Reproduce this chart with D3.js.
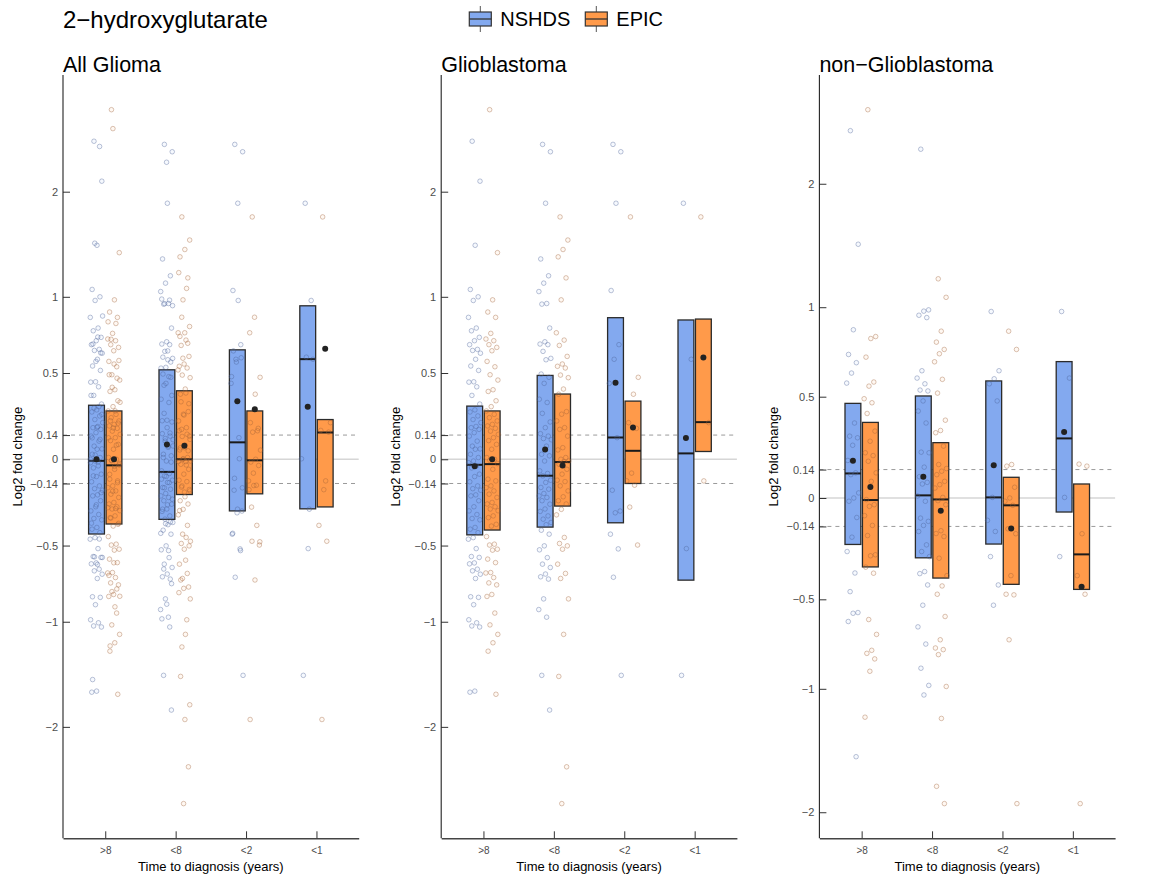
<!DOCTYPE html>
<html>
<head>
<meta charset="utf-8">
<script src="https://d3js.org/d3.v7.min.js"></script>
<style>
  body { margin: 0; background: #fff; }
  svg { font-family: "Liberation Sans", Arial, Helvetica, sans-serif; }
  .tick text { fill: #4d4d4d; }
  .tick line { stroke: #333; }
</style>
</head>
<body>
<svg id="chart" width="1151" height="876"></svg>
<script>
// ---- data ----
const groups = [">8", "<8", "<2", "<1"];
const cohorts = ["NSHDS", "EPIC"];
const panelTitles = ["All Glioma", "Glioblastoma", "non\u2212Glioblastoma"];
const yTicks = [-2, -1, -0.5, -0.14, 0, 0.14, 0.5, 1, 2];
// the y axis is squeezed away from zero; relative spacing of the ticks
const yTickWarp = [-1.647, -1, -0.531, -0.149, 0, 0.149, 0.531, 1, 1.647];

// log2 fold change per subject, glioblastoma cases, one list per time group
const gbmNSHDS = [
  [2.48, 2.10, 1.49, 1.07, 1.0, 0.976, 0.865, 0.795, 0.777, 0.734, 0.712, 0.686, 0.655, 0.648, 0.63, 0.59, 0.546, 0.517, 0.449, 0.447, 0.42, 0.37, 0.32, 0.286, 0.274, 0.251, 0.23, 0.212, 0.19, 0.183, 0.173, 0.154, 0.134, 0.105, 0.076, 0.06, 0.058, 0.029, 0.01, -0.01, -0.02, -0.038, -0.05, -0.086, -0.1, -0.13, -0.154, -0.17, -0.179, -0.206, -0.212, -0.24, -0.275, -0.299, -0.32, -0.343, -0.351, -0.395, -0.405, -0.425, -0.454, -0.463, -0.52, -0.572, -0.578, -0.614, -0.62, -0.655, -0.666, -0.688, -0.716, -0.836, -0.84, -0.888, -0.987, -1.01, -1.04, -1.05, -1.66, -1.67],
  [2.45, 2.38, 1.89, 1.36, 1.2, 1.13, 1.05, 0.956, 0.952, 0.795, 0.705, 0.69, 0.686, 0.642, 0.596, 0.587, 0.494, 0.475, 0.44, 0.348, 0.329, 0.266, 0.216, 0.183, 0.148, 0.134, 0.12, 0.113, 0.076, 0.029, 0.02, -0.01, -0.067, -0.082, -0.096, -0.121, -0.134, -0.163, -0.173, -0.198, -0.212, -0.221, -0.24, -0.26, -0.288, -0.302, -0.328, -0.347, -0.366, -0.379, -0.411, -0.434, -0.502, -0.528, -0.579, -0.622, -0.644, -0.687, -0.705, -0.72, -0.85, -0.92, -0.97, -1.51, -1.84],
  [2.45, 2.38, 1.89, 1.06, 0.686, 0.59, 0.44, 0.125, -0.179, -0.3, -0.31, -0.434, -0.522, -0.708, -1.51],
  [1.89, 0.59, -0.52, -1.51]
];
const gbmEPIC = [
  [2.78, 1.42, 0.98, 0.9, 0.865, 0.76, 0.723, 0.712, 0.686, 0.668, 0.646, 0.576, 0.541, 0.49, 0.459, 0.403, 0.393, 0.339, 0.305, 0.28, 0.26, 0.241, 0.222, 0.202, 0.193, 0.179, 0.163, 0.144, 0.125, 0.108, 0.086, 0.058, 0.01, 0.0, -0.006, -0.025, -0.058, -0.115, -0.125, -0.154, -0.164, -0.183, -0.202, -0.221, -0.25, -0.259, -0.275, -0.288, -0.298, -0.328, -0.338, -0.377, -0.387, -0.448, -0.492, -0.497, -0.524, -0.53, -0.589, -0.612, -0.677, -0.68, -0.71, -0.745, -0.758, -0.821, -0.834, -0.943, -1.03, -1.12, -1.2, -1.28, -1.69],
  [1.76, 1.54, 1.45, 1.38, 1.18, 0.98, 0.764, 0.716, 0.681, 0.609, 0.559, 0.544, 0.533, 0.488, 0.473, 0.407, 0.377, 0.276, 0.261, 0.222, 0.183, 0.173, 0.134, 0.067, 0.054, 0.01, 0.0, -0.01, -0.013, -0.029, -0.058, -0.086, -0.121, -0.129, -0.154, -0.183, -0.217, -0.24, -0.259, -0.29, -0.322, -0.453, -0.488, -0.502, -0.524, -0.622, -0.683, -0.716, -0.85, -1.12, -1.52, -2.38, -2.73],
  [1.76, 0.475, 0.377, 0.212, 0.179, -0.08, -0.125, -0.15, -0.277, -0.497],
  [1.76, 0.212, -0.125]
];
// non-glioblastoma cases
const nonNSHDS = [
  [2.43, 1.51, 0.874, 0.736, 0.69, 0.632, 0.576, 0.37, 0.305, 0.297, 0.26, 0.185, 0.124, 0.115, 0.025, 0.0, -0.016, -0.096, -0.193, -0.264, -0.37, -0.462, -0.574, -0.578, -0.624, -1.55],
  [2.28, 0.985, 0.978, 0.955, 0.942, 0.645, 0.604, 0.572, 0.537, 0.532, 0.479, 0.429, 0.37, 0.226, 0.223, 0.152, 0.105, 0.077, 0.069, 0.01, -0.016, -0.099, -0.115, -0.135, -0.165, -0.231, -0.264, -0.289, -0.363, -0.373, -0.429, -0.533, -0.654, -0.75, -0.885, -0.981, -1.05],
  [0.976, 0.645, 0.6, 0.572, 0.479, 0.003, -0.11, -0.165, -0.289, -0.429, -0.533],
  [0.976, 0.604, 0.003, -0.289]
];
const nonEPIC = [
  [2.6, 0.836, 0.825, 0.721, 0.582, 0.559, 0.49, 0.47, 0.417, 0.33, 0.28, 0.223, 0.209, 0.181, 0.124, 0.082, -0.008, -0.033, -0.041, -0.087, -0.135, -0.185, -0.28, -0.285, -0.341, -0.371, -0.613, -0.696, -0.785, -0.802, -0.833, -0.902, -1.23],
  [1.23, 1.08, 0.866, 0.805, 0.764, 0.74, 0.695, 0.597, 0.52, 0.384, 0.333, 0.322, 0.256, 0.165, 0.145, 0.132, 0.115, 0.082, 0.066, 0.049, 0.003, -0.013, -0.033, -0.161, -0.175, -0.19, -0.297, -0.383, -0.434, -0.475, -0.596, -0.726, -0.772, -0.781, -0.809, -0.987, -1.24, -1.79, -1.93],
  [0.866, 0.764, 0.165, 0.157, 0.053, 0.0, -0.016, -0.036, -0.152, -0.176, -0.383, -0.475, -0.478, -0.726, -1.93],
  [0.167, 0.157, -0.176, -0.383, -0.475, -1.93]
];

// box summaries per time group: [lower, median, upper, mean]
const allBoxNSHDS = [[-0.433, -0.009, 0.313, 0.0], [-0.348, -0.073, 0.521, 0.085], [-0.299, 0.098, 0.652, 0.336], [-0.287, 0.591, 0.941, 0.304]];
const allBoxEPIC  = [[-0.375, -0.035, 0.28, 0.0], [-0.204, 0.0, 0.397, 0.078], [-0.2, -0.006, 0.28, 0.29], [-0.276, 0.155, 0.23, 0.659]];
const gbmBoxNSHDS = [[-0.438, -0.032, 0.308, -0.04], [-0.393, -0.095, 0.486, 0.057], [-0.368, 0.126, 0.863, 0.444], [-0.727, 0.034, 0.848, 0.123]];
const gbmBoxEPIC  = [[-0.41, -0.028, 0.28, 0.0], [-0.271, -0.016, 0.378, -0.036], [-0.14, 0.049, 0.337, 0.184], [0.045, 0.215, 0.854, 0.602]];
const nonBoxNSHDS = [[-0.229, 0.121, 0.467, 0.184], [-0.295, 0.013, 0.504, 0.105], [-0.227, 0.003, 0.588, 0.161], [-0.069, 0.294, 0.696, 0.326]];
const nonBoxEPIC  = [[-0.34, -0.01, 0.373, 0.054], [-0.395, -0.007, 0.273, -0.063], [-0.426, -0.036, 0.102, -0.15], [-0.451, -0.278, 0.069, -0.438]];

// all glioma = both subtypes together
const allNSHDS = gbmNSHDS.map((d, i) => d.concat(nonNSHDS[i]));
const allEPIC = gbmEPIC.map((d, i) => d.concat(nonEPIC[i]));

const panels = [
  { title: panelTitles[0], pts: [allNSHDS, allEPIC], box: [allBoxNSHDS, allBoxEPIC] },
  { title: panelTitles[1], pts: [gbmNSHDS, gbmEPIC], box: [gbmBoxNSHDS, gbmBoxEPIC] },
  { title: panelTitles[2], pts: [nonNSHDS, nonEPIC], box: [nonBoxNSHDS, nonBoxEPIC] }
];

// ---- drawing ----
const fill = ["#83a9ef", "#ff9a4a"];
const ptStroke = ["#4a5f96", "#9c5f38"];
const plotTop = 75, plotBottom = 838.3, panelW = 295.7;

const svg = d3.select("#chart");
svg.append("rect").attr("width", 1151).attr("height", 876).attr("fill", "#fff");

const warp = d3.scaleLinear().domain(yTicks).range(yTickWarp);
const fmt = d => d < 0 ? "\u2212" + Math.abs(d) : String(d);

panels.forEach((p, pi) => {
  const left = 63 + pi * 378.2, right = left + panelW;
  const g = svg.append("g");

  // y limits from everything drawn, 5% padding in axis space
  const vals = p.pts.flat(2).concat(p.box.flat(2));
  const ext = d3.extent(vals, v => warp(v));
  const pad = (ext[1] - ext[0]) * 0.05;
  const yLin = d3.scaleLinear().domain([ext[0] - pad, ext[1] + pad]).range([plotBottom, plotTop]);
  const y = d3.scaleLinear().domain(yTicks).range(yTicks.map(t => yLin(warp(t))));

  const x = d3.scalePoint().domain(groups).range([left, right]).padding(0.6);
  const step = x.step();
  const xc = (gi, ci) => x(groups[gi]) + (ci === 0 ? -1 : 1) * 0.124 * step;
  const bw = 0.225 * step;

  // reference lines
  g.append("line").attr("x1", left).attr("x2", right)
    .attr("y1", y(0)).attr("y2", y(0))
    .attr("stroke", "#d6d6d6").attr("stroke-width", 1.5);
  g.selectAll(".thr").data([-0.14, 0.14]).join("line")
    .attr("x1", left).attr("x2", right)
    .attr("y1", d => y(d)).attr("y2", d => y(d))
    .attr("stroke", "#9a9a9a").attr("stroke-width", 1).attr("stroke-dasharray", "4,4");

  // boxes
  cohorts.forEach((c, ci) => {
    p.box[ci].forEach((b, gi) => {
      const cx = xc(gi, ci);
      g.append("rect")
        .attr("x", cx - bw / 2).attr("width", bw)
        .attr("y", y(b[2])).attr("height", y(b[0]) - y(b[2]))
        .attr("fill", fill[ci]).attr("stroke", "#2b2b2b").attr("stroke-width", 1.3);
      g.append("line")
        .attr("x1", cx - bw / 2).attr("x2", cx + bw / 2)
        .attr("y1", y(b[1])).attr("y2", y(b[1]))
        .attr("stroke", "#1a1a1a").attr("stroke-width", 2);
    });
  });

  // jittered subjects
  cohorts.forEach((c, ci) => {
    p.pts[ci].forEach((vs, gi) => {
      const cx = xc(gi, ci);
      g.append("g").selectAll("circle").data(vs).join("circle")
        .attr("cx", (v, i) => cx + (((i * 0.618034 + 0.3) % 1) * 2 - 1) * 0.09 * step)
        .attr("cy", v => y(v))
        .attr("r", 2.3)
        .attr("fill", fill[ci]).attr("fill-opacity", 0.07)
        .attr("stroke", ptStroke[ci]).attr("stroke-opacity", 0.42).attr("stroke-width", 0.9);
    });
  });

  // means
  cohorts.forEach((c, ci) => {
    g.append("g").selectAll("circle").data(p.box[ci]).join("circle")
      .attr("cx", (b, gi) => xc(gi, ci))
      .attr("cy", b => y(b[3]))
      .attr("r", 3).attr("fill", "#222");
  });

  // axes
  const yAxis = d3.axisLeft(y).tickValues(yTicks).tickFormat(fmt)
    .tickSizeInner(-7).tickSizeOuter(0).tickPadding(5);
  g.append("g").attr("transform", `translate(${left},0)`).call(yAxis)
    .call(a => a.select(".domain").remove())
    .call(a => a.selectAll("text").attr("font-size", 11).attr("font-family", null));
  g.append("line").attr("x1", left).attr("x2", left).attr("y1", plotTop).attr("y2", plotBottom)
    .attr("stroke", "#222").attr("stroke-width", 1.1);

  const xAxis = d3.axisBottom(x).tickSizeInner(-7).tickSizeOuter(0).tickPadding(9);
  g.append("g").attr("transform", `translate(0,${plotBottom})`).call(xAxis)
    .call(a => a.select(".domain").attr("stroke", "#444").attr("stroke-width", 1.6))
    .call(a => a.selectAll("text").attr("font-size", 10).attr("font-family", null));

  g.append("text")
    .attr("x", (left + right) / 2).attr("y", 871)
    .attr("text-anchor", "middle").attr("font-size", 13)
    .text("Time to diagnosis (years)");
  g.append("text")
    .attr("transform", `translate(${left - 41.5},${(plotTop + plotBottom) / 2}) rotate(-90)`)
    .attr("text-anchor", "middle").attr("font-size", 13)
    .text("Log2 fold change");
  g.append("text")
    .attr("x", left).attr("y", 72)
    .attr("font-size", 21.5)
    .text(p.title);
});

// main title
svg.append("text").attr("x", 63).attr("y", 28)
  .attr("font-size", 24).text("2\u2212hydroxyglutarate");

// legend
const legendX = [469.3, 585.3];
cohorts.forEach((c, ci) => {
  const lg = svg.append("g").attr("transform", `translate(${legendX[ci]},0)`);
  lg.append("line").attr("x1", 11).attr("x2", 11).attr("y1", 6).attr("y2", 32)
    .attr("stroke", "#555").attr("stroke-width", 1);
  lg.append("rect").attr("x", 0).attr("y", 12).attr("width", 22).attr("height", 14)
    .attr("fill", fill[ci]).attr("stroke", "#333").attr("stroke-width", 1.2);
  lg.append("line").attr("x1", 0).attr("x2", 22).attr("y1", 19).attr("y2", 19)
    .attr("stroke", "#333").attr("stroke-width", 1.3);
  lg.append("text").attr("x", 31).attr("y", 26).attr("font-size", 20).text(c);
});
</script>
</body>
</html>
